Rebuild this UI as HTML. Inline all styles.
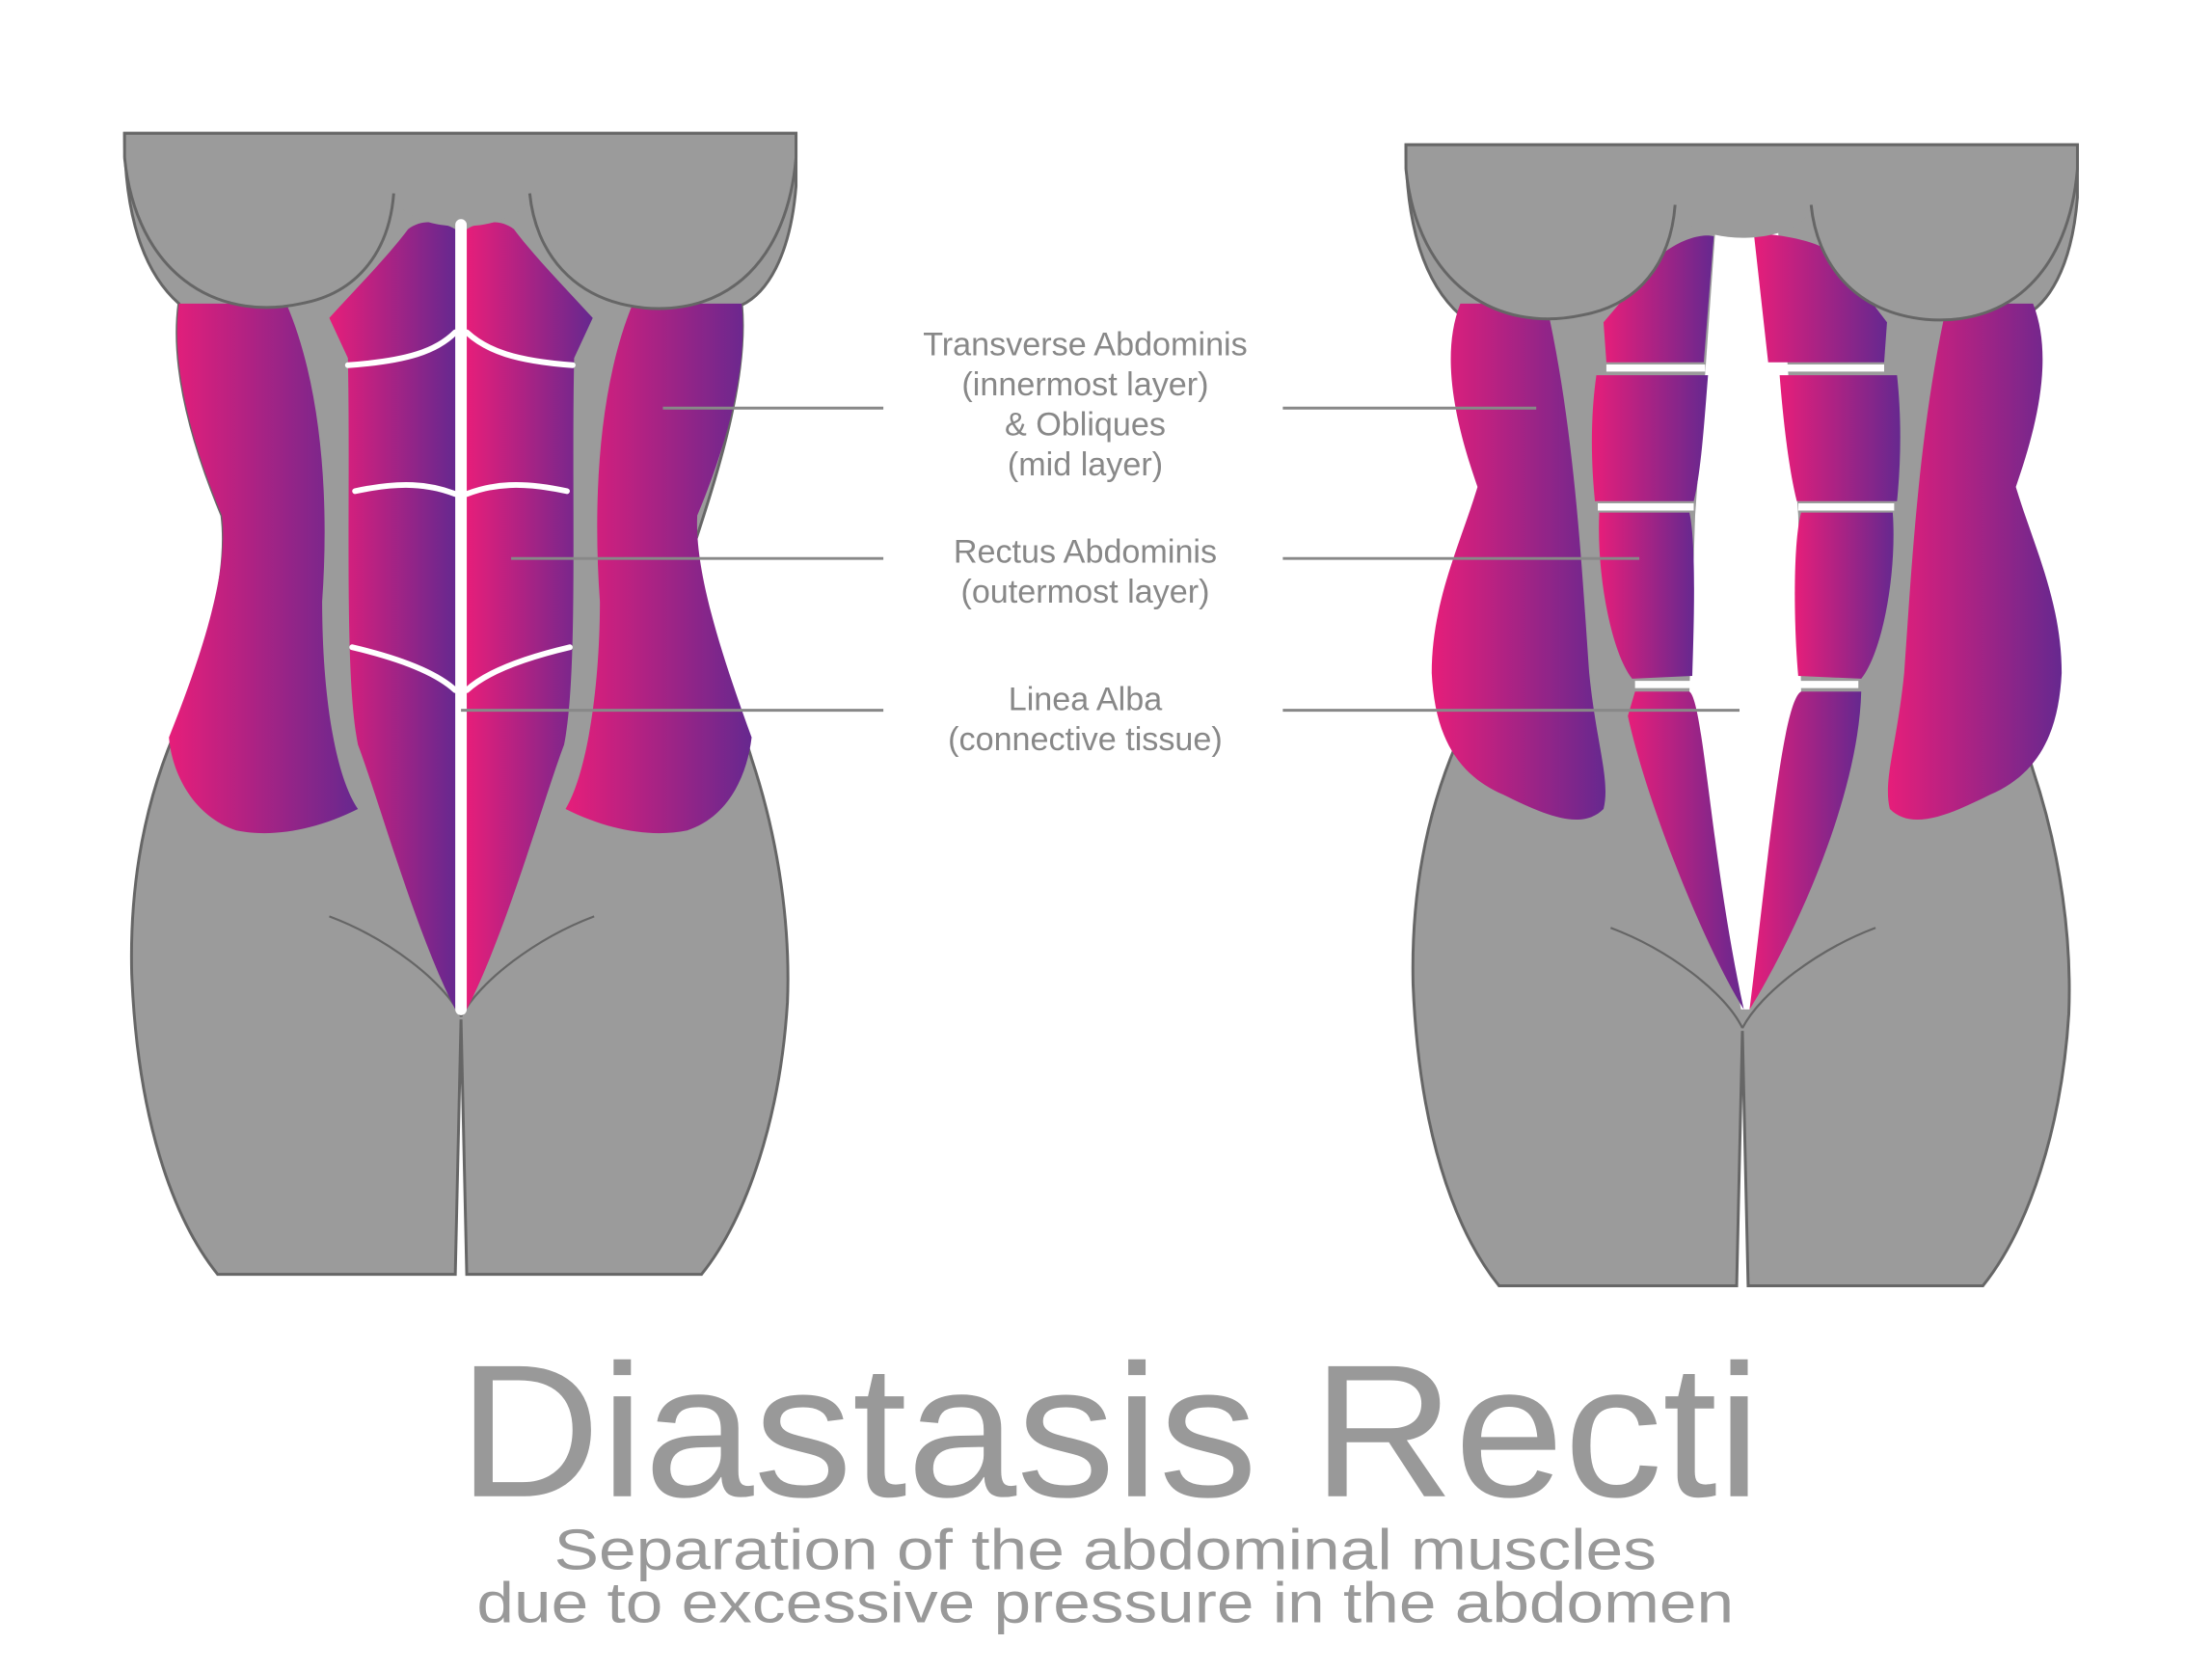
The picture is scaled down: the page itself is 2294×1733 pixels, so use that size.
<!DOCTYPE html>
<html><head><meta charset="utf-8"><style>html,body{margin:0;padding:0;background:#fff}svg{display:block}</style></head>
<body>
<svg width="2294" height="1733" viewBox="0 0 1545 1167" xmlns="http://www.w3.org/2000/svg">
<defs>
<linearGradient id="g" x1="0" y1="0" x2="1" y2="0"><stop offset="0" stop-color="#e61e7a"/><stop offset="1" stop-color="#66288f"/></linearGradient>
<g id="body">
<path d="M87,93 L556,93 L556,130 C552,180 535,205 518,213 C522,260 505,320 485,380 C490,440 510,480 525,530 C545,590 552,650 550,700 C545,780 522,850 490,890 L326,890 L322,712 L318,890 L152,890 C120,850 96,780 92,680 C90,600 108,545 122,512 C145,455 160,400 155,360 C130,300 120,250 125,212 C100,190 87,150 87,93 Z" fill="#9b9b9b" stroke="#666" stroke-width="2"/>
<path d="M230,640 C270,655 310,685 322,710 M415,640 C375,655 335,685 322,710" fill="none" stroke="#666" stroke-width="1.5"/>
</g>
<g id="bust">
<path d="M87,93 L556,93 L556,110 C552,180 512,220 450,215 C400,210 374,176 370,135 C368,150 345,158 322,158 C300,158 277,150 275,135 C272,175 250,205 210,212 C150,225 95,190 87,110 Z" fill="#9b9b9b"/>
<path d="M87,110 L87,93 L556,93 L556,110 C550,180 510,220 450,215 C400,210 374,176 370,135 M275,135 C272,175 250,205 210,212 C150,225 95,190 87,110" fill="none" stroke="#666" stroke-width="2"/>
</g>
</defs>

<!-- LEFT FIGURE -->
<use href="#body"/>
<path d="M125,212 L200,212 C225,270 230,350 225,420 C225,480 233,540 250,565 C220,580 190,585 165,580 C135,570 120,540 118,515 C140,460 160,400 155,360 C130,300 120,250 125,212Z" fill="url(#g)"/>
<path d="M518,212 L442,212 C418,270 414,350 419,420 C419,480 410,540 395,565 C425,580 455,585 480,580 C510,570 522,540 525,515 C505,460 485,400 487,360 C512,300 522,250 518,212Z" fill="url(#g)"/>
<path d="M285,160 C295,152 310,155 318,160 L318,705 C290,650 265,560 250,520 C240,470 245,350 243,250 L230,222 C250,200 270,180 285,160Z" fill="url(#g)"/>
<path d="M359,160 C349,152 334,155 326,160 L326,705 C354,650 379,560 394,520 C404,470 399,350 401,250 L414,222 C394,200 374,180 359,160Z" fill="url(#g)"/>
<use href="#bust"/>
<g fill="none" stroke="#fff" stroke-width="4" stroke-linecap="round">
<path d="M322,157 L322,705" stroke-width="8"/>
<path d="M243,255 C285,252 305,245 318,232 M326,232 C340,245 360,252 400,255"/>
<path d="M248,343 C280,336 300,338 318,345 M326,345 C344,338 364,336 396,343"/>
<path d="M246,452 C280,460 305,470 318,482 M326,482 C339,470 364,460 398,452"/>
</g>

<!-- RIGHT FIGURE -->
<g transform="translate(895,8)"><use href="#body"/></g>
<path d="M1020,212 L1080,212 C1100,300 1105,400 1110,470 C1115,520 1125,545 1120,565 C1105,580 1080,570 1050,555 C1015,540 1002,510 1000,470 C1000,420 1020,380 1032,340 C1018,300 1005,250 1020,212Z" fill="url(#g)"/>
<path d="M1420,212 L1360,212 C1340,300 1335,400 1330,470 C1325,520 1315,545 1320,565 C1335,580 1360,570 1390,555 C1425,540 1438,510 1440,470 C1440,420 1420,380 1408,340 C1422,300 1435,250 1420,212Z" fill="url(#g)"/>
<path d="M1198,162 L1242,162 L1256,360 L1258,483 L1222,705 L1216,705 L1180,483 L1184,360 Z" fill="#fff"/>
<g fill="url(#g)">
<path d="M1160,178 C1175,166 1190,163 1197,165 L1190,253 L1122,253 L1120,225 Z"/>
<path d="M1115,262 L1193,262 C1190,300 1188,330 1183,350 L1114,350 C1111,320 1111,290 1115,262Z"/>
<path d="M1117,358 L1180,358 C1185,380 1183,440 1182,472 L1140,474 C1125,455 1115,400 1117,358Z"/>
<path d="M1142,483 L1180,483 C1190,490 1195,600 1218,705 C1190,660 1150,560 1137,500Z"/>
<path d="M1282,178 C1267,166 1235,163 1225,163 L1235,253 L1316,253 L1318,225 Z"/>
<path d="M1243,262 L1325,262 C1328,290 1328,320 1325,350 L1255,350 C1250,330 1246,300 1243,262Z"/>
<path d="M1258,358 L1322,358 C1325,400 1315,455 1300,474 L1256,472 C1253,440 1252,380 1258,358Z"/>
<path d="M1258,483 L1300,483 C1298,560 1250,660 1222,705 C1235,600 1245,490 1258,483Z"/>
</g>
<g stroke="#fff" stroke-width="5" stroke-linecap="butt">
<line x1="1122" y1="257" x2="1191" y2="257"/><line x1="1241" y1="257" x2="1316" y2="257"/>
<line x1="1116" y1="354" x2="1183" y2="354"/><line x1="1256" y1="354" x2="1323" y2="354"/>
<line x1="1142" y1="478" x2="1181" y2="478"/><line x1="1257" y1="478" x2="1298" y2="478"/>
</g>
<g transform="translate(895,8)"><use href="#bust"/></g>

<!-- Leader lines -->
<g stroke="#888" stroke-width="2">
<line x1="463" y1="285" x2="617" y2="285"/><line x1="896" y1="285" x2="1073" y2="285"/>
<line x1="357" y1="390" x2="617" y2="390"/><line x1="896" y1="390" x2="1145" y2="390"/>
<line x1="322" y1="496" x2="617" y2="496"/><line x1="896" y1="496" x2="1215" y2="496"/>
</g>
<g font-family="Liberation Sans, sans-serif" font-size="23" fill="#888" text-anchor="middle">
<text x="758" y="248">Transverse Abdominis</text>
<text x="758" y="276">(innermost layer)</text>
<text x="758" y="304">&amp; Obliques</text>
<text x="758" y="332">(mid layer)</text>
<text x="758" y="393">Rectus Abdominis</text>
<text x="758" y="421">(outermost layer)</text>
<text x="758" y="496">Linea Alba</text>
<text x="758" y="524">(connective tissue)</text>
</g>
<g font-family="Liberation Sans, sans-serif" fill="#999">
<text x="320" y="1045" font-size="132" textLength="910" lengthAdjust="spacingAndGlyphs">Diastasis Recti</text>
<text x="387" y="1096" font-size="40" textLength="770" lengthAdjust="spacingAndGlyphs">Separation of the abdominal muscles</text>
<text x="333" y="1133" font-size="40" textLength="878" lengthAdjust="spacingAndGlyphs">due to excessive pressure in the abdomen</text>
</g>
</svg>
</body></html>
